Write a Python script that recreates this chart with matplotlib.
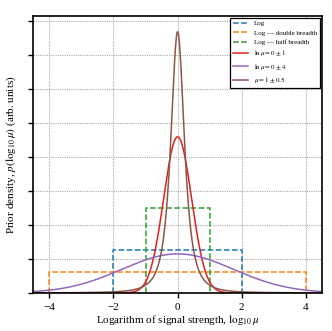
import numpy as np
import matplotlib
matplotlib.use("Agg")
import matplotlib.pyplot as plt

plt.rcParams['font.family'] = ['Liberation Serif', 'DejaVu Serif']
plt.rcParams['mathtext.fontset'] = 'stix'

# uniform priors in log10(mu): (low, high)
uni_labels = ['Log', 'Log \u2014 double breadth', 'Log \u2014 half breadth']
uni_ranges = [(-2, 2), (-4, 4), (-1, 1)]
uni_colors = ['tab:blue', 'tab:orange', 'tab:green']

# gaussian priors in ln(mu): (mean, sigma)
ln_labels = [r'$\ln\mu = 0 \pm 1$', r'$\ln\mu = 0 \pm 4$']
ln_params = [(0.0, 1.0), (0.0, 4.0)]
ln_colors = ['#e02020', 'tab:purple']

# mu = 1 +- 0.5, heavy-tailed shape in log10(mu): (centre, scale, dof)
mu_label = r'$\mu = 1 \pm 0.5$'
mu_params = (0.0, 0.23, 2.0)
mu_color = 'tab:brown'

x = np.linspace(-4.5, 4.5, 2001)

fig, ax = plt.subplots(figsize=(3.32, 3.31), dpi=100)
fig.subplots_adjust(left=0.10, right=0.97, top=0.953, bottom=0.115)

for lab, (lo, hi), c in zip(uni_labels, uni_ranges, uni_colors):
    h = 1.0 / (hi - lo)
    ax.plot([lo, lo, hi, hi], [0, h, h, 0], ls='--', color=c, lw=1.1, label=lab)

for lab, (m, s), c in zip(ln_labels, ln_params, ln_colors):
    sx = s / np.log(10)
    y = np.exp(-0.5 * ((x - m / np.log(10)) / sx) ** 2) / (sx * np.sqrt(2 * np.pi))
    ax.plot(x, y, color=c, lw=1.1, label=lab)

c0, sc, nu = mu_params
t = (x - c0) / sc
y = (1 + t ** 2 / nu) ** (-(nu + 1) / 2) / (2 * np.sqrt(2) * sc)
ax.plot(x, y, color=mu_color, lw=1.1, label=mu_label)

ax.set_xlim(-4.5, 4.5)
ax.set_ylim(0, 1.632)
ax.set_xticks([-4, -2, 0, 2, 4])
ax.set_yticks(np.arange(0, 1.61, 0.2))
ax.set_yticklabels([])
ax.tick_params(labelsize=8, width=1.0, length=3.5)
ax.grid(True, ls=(0, (1, 1)), color='#aaaaaa', lw=0.8)
for sp in ax.spines.values():
    sp.set_linewidth(1.2)

ax.set_xlabel(r'Logarithm of signal strength, $\log_{10}\mu$', fontsize=8, labelpad=1)
ax.set_ylabel(r'Prior density, $p(\log_{10}\mu)$ (arb. units)', fontsize=8)

leg = ax.legend(loc='upper right', fontsize=5, fancybox=False, framealpha=1,
                edgecolor='black', handlelength=2.2, borderaxespad=0.3)
leg.get_frame().set_linewidth(0.9)

plt.savefig('out.png', dpi=100)
